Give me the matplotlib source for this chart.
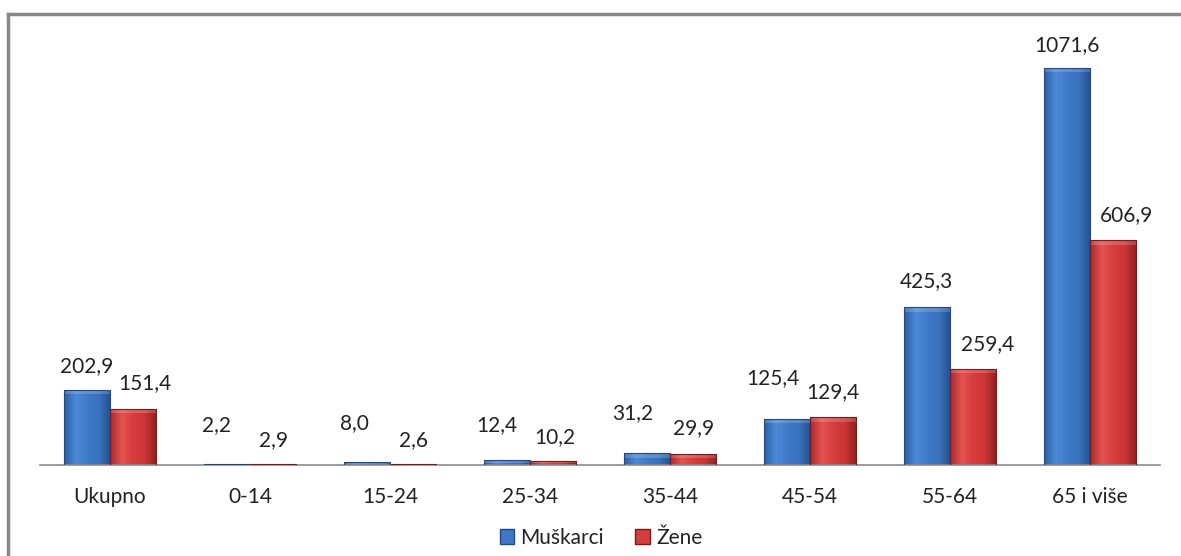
import numpy as np
import matplotlib
matplotlib.use("Agg")
import matplotlib.pyplot as plt
from matplotlib.patches import Patch
from matplotlib.lines import Line2D
from matplotlib.colors import LinearSegmentedColormap

plt.rcParams['font.family'] = ['Lato', 'DejaVu Sans']

kategorije = ["Ukupno", "0-14", "15-24", "25-34", "35-44", "45-54", "55-64", "65 i više"]
muskarci = [202.9, 2.2, 8.0, 12.4, 31.2, 125.4, 425.3, 1071.6]
zene = [151.4, 2.9, 2.6, 10.2, 29.9, 129.4, 259.4, 606.9]

# pomaci natpisa (px) kao u originalu
pomak_m = [(0, 24), (-10, 39), (-12, 39), (-10, 35), (-14, 40), (-14, 40), (0, 26), (0, 23)]
pomak_z = [(12, 26), (0, 24), (0, 24), (2, 24), (0, 26), (0, 25), (15, 25), (13, 25)]

plavo = LinearSegmentedColormap.from_list("p", ["#2c5fa6", "#4c8ad6", "#3d79c8", "#3a72bd", "#244f8e"])
crveno = LinearSegmentedColormap.from_list("c", ["#a82a2a", "#e65252", "#d63d3d", "#cc3535", "#8f2020"])

fig = plt.figure(figsize=(11.81, 5.56), dpi=100)
ax = fig.add_axes([40/1181, 91/556, 1120/1181, 445/556])

x = np.arange(len(kategorije))
w = 0.33
grad = np.linspace(0, 1, 64).reshape(1, -1)

def crtaj(pos, vals, cmap, edge):
    bars = ax.bar(pos, vals, w, color="none", edgecolor=edge, linewidth=0.8, zorder=3)
    for b in bars:
        x0, y0 = b.get_x(), b.get_y()
        bw, bh = b.get_width(), b.get_height()
        im = ax.imshow(grad, cmap=cmap, extent=[x0, x0 + bw, y0, y0 + bh],
                       aspect="auto", zorder=2, origin="lower")
        im.set_clip_path(b)
        # svjetliji gornji rub
        top = min(bh * 0.5, 12)
        ax.fill_between([x0, x0 + bw], y0 + bh - top, y0 + bh, color="white",
                        alpha=0.18, zorder=2.5, linewidth=0)
    return bars

crtaj(x - w/2, muskarci, plavo, "#1f4a85")
crtaj(x + w/2, zene, crveno, "#7a1a1a")

for i in range(len(kategorije)):
    ax.annotate(f"{muskarci[i]:.1f}".replace(".", ","), (x[i] - w/2, muskarci[i]),
                xytext=pomak_m[i], textcoords="offset pixels",
                ha="center", va="center", fontsize=15, color="#222222")
    ax.annotate(f"{zene[i]:.1f}".replace(".", ","), (x[i] + w/2, zene[i]),
                xytext=pomak_z[i], textcoords="offset pixels",
                ha="center", va="center", fontsize=15, color="#222222")

ax.set_xlim(-0.5, len(kategorije) - 0.5)
ax.set_ylim(0, 1201)
ax.set_xticks(x)
ax.set_xticklabels(kategorije, fontsize=15, color="#222222")
ax.tick_params(length=0, pad=16)
ax.set_yticks([])
for s in ["top", "right", "left"]:
    ax.spines[s].set_visible(False)
ax.spines["bottom"].set_color("#8c8c8c")
ax.spines["bottom"].set_linewidth(1.2)

handles = [Patch(facecolor="#3d79c8", edgecolor="#1f4a85"),
           Patch(facecolor="#d63d3d", edgecolor="#7a1a1a")]
fig.legend(handles, ["Muškarci", "Žene"], loc="center", bbox_to_anchor=(601/1181, 1 - 538/556),
           ncol=2, frameon=False, fontsize=15, handlelength=0.7, handleheight=0.7,
           handletextpad=0.3, columnspacing=1.5, labelcolor="#222222")

# okvir grafikona
fig.add_artist(Line2D([8/1181, 8/1181], [0, 1 - 14/556], color="#888888", lw=2.5, transform=fig.transFigure))
fig.add_artist(Line2D([8/1181, 1], [1 - 14/556, 1 - 14/556], color="#888888", lw=2.5, transform=fig.transFigure))

fig.savefig("out.png", dpi=100)
